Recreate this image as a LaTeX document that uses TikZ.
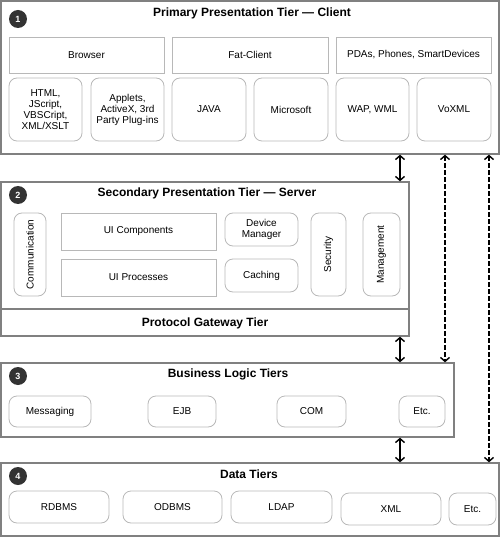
\documentclass[tikz,border=0pt]{standalone}
\usepackage{fontspec}
\setmainfont{Liberation Sans}
\usetikzlibrary{arrows.meta}
\definecolor{tierline}{HTML}{808080}
\definecolor{boxline}{HTML}{B8B8B8}
\definecolor{disc}{HTML}{333333}
\begin{document}
\begin{tikzpicture}[x=1pt,y=-1pt,
  tier/.style={draw=tierline,line width=1.3pt,inner sep=0pt},
  sz/.style 2 args={minimum width=#1pt,minimum height=#2pt},
  sq/.style={draw=boxline,line width=0.8pt,inner sep=1pt,align=center,font=\fontsize{10}{11}\selectfont},
  rbox/.style={sq,rounded corners=8pt},
  ttl/.style={font=\fontsize{12}{14}\bfseries\selectfont},
  num/.style={circle,fill=disc,text=white,minimum size=18pt,inner sep=0pt,font=\fontsize{9}{9}\bfseries\selectfont},
  tip/.tip={Straight Barb[length=4pt,width=9pt]},
  link/.style={line width=1.4pt,tip-tip},
  dlink/.style={line width=1.4pt,dash pattern=on 4.5pt off 2.5pt,tip-tip}
]
\useasboundingbox (0,0) rectangle (500,537);

% Tier 1
\node[tier,sz={498}{153}] (t1) at (250,77.5) {};
\node[num] (c1) at (18,19) {1};
\node[ttl] (title1) at (252,13) {Primary Presentation Tier — Client};
\node[sq,sz={155}{36}] (browser) at (86.5,55) {Browser};
\node[sq,sz={156}{36}] (fat) at (250,55) {Fat-Client};
\node[sq,sz={155}{36}] (pdas) at (413.5,55) {PDAs, Phones, SmartDevices};
\node[rbox,sz={73}{63}] (html) at (45.5,109.5) {HTML,\\JScript,\\VBSCript,\\XML/XSLT};
\node[rbox,sz={73}{63}] (applets) at (127.5,109.5) {Applets,\\ActiveX, 3rd\\Party Plug-ins};
\node[rbox,sz={74}{63}] (java) at (209,109.5) {JAVA};
\node[rbox,sz={74}{63}] (ms) at (291,109.5) {Microsoft};
\node[rbox,sz={73}{63}] (wap) at (372.5,109.5) {WAP, WML};
\node[rbox,sz={74}{63}] (voxml) at (454,109.5) {VoXML};

% Tier 2
\node[tier,sz={408}{154}] (t2) at (205,259) {};
\coordinate (div) at (0,309);
\draw[tierline,line width=1.3pt] (t2.west |- div) -- (t2.east |- div);
\node[num] (c2) at (18,195) {2};
\node[ttl] (title2) at (207,193) {Secondary Presentation Tier — Server};
\node[rbox,rotate=90,sz={83}{32}] (comm) at (30,254.5) {Communication};
\node[sq,sz={155}{37}] (uicomp) at (138.5,231.5) {UI Components};
\node[sq,sz={155}{37}] (uiproc) at (138.5,277.5) {UI Processes};
\node[rbox,sz={73}{33}] (devmgr) at (261.5,229.5) {Device\\Manager};
\node[rbox,sz={73}{33}] (caching) at (261.5,275.5) {Caching};
\node[rbox,rotate=90,sz={83}{35}] (security) at (328.5,254.5) {Security};
\node[rbox,rotate=90,sz={83}{37}] (mgmt) at (381.5,254.5) {Management};
\node[ttl] (protocol) at (205,323) {Protocol Gateway Tier};

% Tier 3
\node[tier,sz={453}{74}] (t3) at (227.5,400) {};
\node[num] (c3) at (18,376) {3};
\node[ttl] (title3) at (228,374) {Business Logic Tiers};
\node[rbox,sz={82}{31}] (messaging) at (50,411.5) {Messaging};
\node[rbox,sz={68}{31}] (ejb) at (182,411.5) {EJB};
\node[rbox,sz={69}{31}] (com) at (311.5,411.5) {COM};
\node[rbox,sz={46}{31}] (etc3) at (422,411.5) {Etc.};

% Tier 4
\node[tier,sz={498}{73}] (t4) at (250,499.5) {};
\node[num] (c4) at (18,476) {4};
\node[ttl] (title4) at (249,474) {Data Tiers};
\node[rbox,sz={100}{32}] (rdbms) at (59,507) {RDBMS};
\node[rbox,sz={99}{32}] (odbms) at (172.5,507) {ODBMS};
\node[rbox,sz={101}{32}] (ldap) at (281.5,507) {LDAP};
\node[rbox,sz={100}{32}] (xml) at (391,509) {XML};
\node[rbox,sz={47}{32}] (etc4) at (472.5,509) {Etc.};

% connectors
\coordinate (xa) at (400,0);
\coordinate (xb) at (445,0);
\coordinate (xc) at (489,0);
\draw[link] (t1.south -| xa) -- (t2.north -| xa);
\draw[link] (t2.south -| xa) -- (t3.north -| xa);
\draw[link] (t3.south -| xa) -- (t4.north -| xa);
\draw[dlink] (t1.south -| xb) -- (t3.north -| xb);
\draw[dlink] (t1.south -| xc) -- (t4.north -| xc);
\end{tikzpicture}
\end{document}
